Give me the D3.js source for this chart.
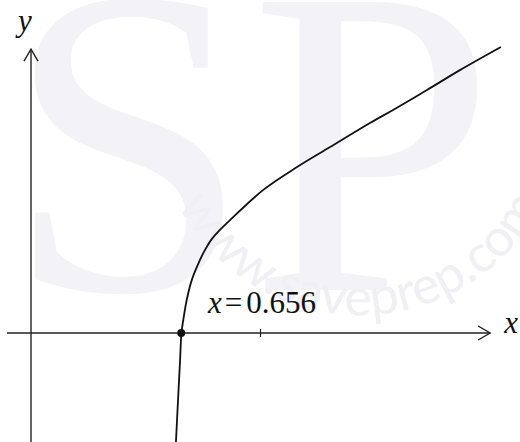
<!DOCTYPE html>
<html>
<head>
<meta charset="utf-8">
<script src="https://cdn.jsdelivr.net/npm/d3@7"></script>
<style>
  html, body { margin: 0; padding: 0; background: #fff; }
  svg { display: block; }
</style>
</head>
<body>
<div id="chart"></div>
<script>
// curve, in axis units (x = 1 at the tick)
const curveX = [0.633, 0.642, 0.651, 0.657, 0.665, 0.680, 0.702, 0.738, 0.760, 0.790, 0.825, 0.869, 1.013, 1.162, 1.306, 1.480, 1.581, 1.729, 1.873, 2.052];
const curveY = [-0.476, -0.293, -0.118, 0, 0.057, 0.144, 0.231, 0.319, 0.363, 0.411, 0.450, 0.493, 0.624, 0.725, 0.812, 0.917, 0.974, 1.061, 1.148, 1.249];
const rootX = 0.656;
const rootLabel = "0.656";
const tickValues = [1];
const xExtent = [-0.105, 2.005];
const yExtent = [-0.476, 1.24];

const width = 520, height = 442;
const serif = "'Times New Roman', 'Liberation Serif', serif";

const svg = d3.select("#chart").append("svg")
  .attr("width", width)
  .attr("height", height);

const x = d3.scaleLinear().domain([0, 1]).range([31, 260]);
const y = d3.scaleLinear().domain([0, 1]).range([333, 104]);

// faint watermark
const wm = svg.append("g").attr("class", "watermark");
wm.append("text")
  .attr("x", 250).attr("y", 290)
  .attr("text-anchor", "middle")
  .style("font-family", serif)
  .style("font-size", "440px")
  .style("fill", "#f2f2f7")
  .text("SP");
wm.append("path")
  .attr("id", "wmArc")
  .attr("d", "M 162 163 A 205 205 0 0 0 562 146")
  .attr("fill", "none");
wm.append("text")
  .style("font-family", "Lato, sans-serif")
  .style("font-size", "52px")
  .style("fill", "#efeff4")
  .append("textPath")
  .attr("href", "#wmArc")
  .attr("startOffset", 45)
  .text("www.saveprep.com");

// axes
const axisColor = "#222";
svg.append("line")
  .attr("x1", x(xExtent[0])).attr("x2", x(xExtent[1]))
  .attr("y1", y(0)).attr("y2", y(0))
  .attr("stroke", axisColor).attr("stroke-width", 1.4);
svg.append("line")
  .attr("x1", x(0)).attr("x2", x(0))
  .attr("y1", y(yExtent[0])).attr("y2", y(yExtent[1]))
  .attr("stroke", axisColor).attr("stroke-width", 1.4);

// open arrow heads
const xTip = [x(xExtent[1]), y(0)];
svg.append("path")
  .attr("d", `M${xTip[0] - 12},${xTip[1] - 7} L${xTip[0]},${xTip[1]} L${xTip[0] - 12},${xTip[1] + 7}`)
  .attr("fill", "none").attr("stroke", axisColor).attr("stroke-width", 1.4);
const yTip = [x(0), y(yExtent[1])];
svg.append("path")
  .attr("d", `M${yTip[0] - 7},${yTip[1] + 12} L${yTip[0]},${yTip[1]} L${yTip[0] + 7},${yTip[1] + 12}`)
  .attr("fill", "none").attr("stroke", axisColor).attr("stroke-width", 1.4);

// tick at x = 1
const xAxis = d3.axisBottom(x).tickValues(tickValues).tickSize(8).tickFormat("");
const gx = svg.append("g")
  .attr("transform", `translate(0,${y(0) - 4})`)
  .call(xAxis);
gx.select(".domain").remove();
gx.selectAll(".tick line").attr("stroke", axisColor).attr("stroke-width", 1.2);

// curve
const pts = curveX.map((d, i) => [d, curveY[i]]);
const line = d3.line()
  .x(d => x(d[0]))
  .y(d => y(d[1]))
  .curve(d3.curveCatmullRom.alpha(0.5));
svg.append("path")
  .datum(pts)
  .attr("d", line)
  .attr("fill", "none")
  .attr("stroke", "#111")
  .attr("stroke-width", 1.8);

// root point
svg.append("circle")
  .attr("cx", x(rootX)).attr("cy", y(0))
  .attr("r", 4)
  .attr("fill", "#111");

// labels
const rl = svg.append("text")
  .attr("x", 208).attr("y", 313)
  .style("font-family", serif)
  .style("font-size", "31px")
  .style("fill", "#111");
rl.append("tspan").style("font-style", "italic").text("x");
rl.append("tspan").attr("dx", 3).text("=");
rl.append("tspan").attr("dx", 4).text(rootLabel);

svg.append("text")
  .attr("x", xTip[0] + 14).attr("y", y(0))
  .style("font-family", serif)
  .style("font-size", "31px")
  .style("font-style", "italic")
  .style("fill", "#111")
  .text("x");

svg.append("text")
  .attr("x", 18).attr("y", 31)
  .style("font-family", serif)
  .style("font-size", "31px")
  .style("font-style", "italic")
  .style("fill", "#111")
  .text("y");
</script>
</body>
</html>
